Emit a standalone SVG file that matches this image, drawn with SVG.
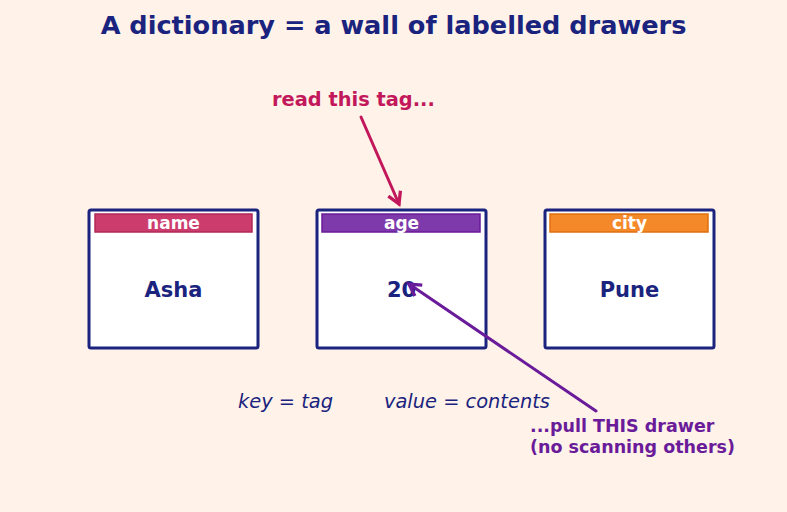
<svg xmlns="http://www.w3.org/2000/svg" width="787" height="512" viewBox="0 0 787 512">
<style>
text{font-family:"DejaVu Sans",sans-serif}
.title{font-size:25.6px;font-weight:bold;fill:#1a237e}
.box{fill:#ffffff;stroke:#1a237e;stroke-width:3}
.tag{stroke-width:1.5}
.tagt{font-size:17px;font-weight:bold;fill:#ffffff}
.val{font-size:21px;font-weight:bold;fill:#1a237e}
.note{font-size:19.4px;font-style:italic;fill:#1a237e}
</style>
<defs>
<marker id="ah1" viewBox="0 0 10 10" refX="8" refY="5" markerWidth="5.5" markerHeight="5.5" orient="auto" markerUnits="strokeWidth">
<path d="M1,1 L8,5 L1,9" fill="none" stroke="#c2185b" stroke-width="2"/>
</marker>
<marker id="ah2" viewBox="0 0 10 10" refX="8" refY="5" markerWidth="5.5" markerHeight="5.5" orient="auto" markerUnits="strokeWidth">
<path d="M1,1 L8,5 L1,9" fill="none" stroke="#6a1b9a" stroke-width="2"/>
</marker>
</defs>
<rect width="787" height="512" fill="#fff2e8"/>
<text class="title" x="393.5" y="34" text-anchor="middle">A dictionary = a wall of labelled drawers</text>
<g id="drawer-name">
<rect class="box" x="89" y="210" width="169" height="138" rx="2"/>
<rect class="tag" x="95" y="214" width="157" height="18" fill="#cc3d6e" stroke="#b02a5a"/>
<text class="tagt" x="173.5" y="229" text-anchor="middle">name</text>
<text class="val" x="173.5" y="297" text-anchor="middle">Asha</text>
</g>
<g id="drawer-age">
<rect class="box" x="317" y="210" width="169" height="138" rx="2"/>
<rect class="tag" x="322" y="214" width="158" height="18" fill="#7e3aab" stroke="#6a1b9a"/>
<text class="tagt" x="401.5" y="229" text-anchor="middle">age</text>
<text class="val" x="401.5" y="297" text-anchor="middle">20</text>
</g>
<g id="drawer-city">
<rect class="box" x="545" y="210" width="169" height="138" rx="2"/>
<rect class="tag" x="550" y="214" width="158" height="18" fill="#f4892a" stroke="#e07010"/>
<text class="tagt" x="629.5" y="229" text-anchor="middle">city</text>
<text class="val" x="629.5" y="297" text-anchor="middle">Pune</text>
</g>
<text class="note" x="238" y="408">key = tag</text>
<text class="note" x="384" y="408">value = contents</text>
<text x="272" y="106" font-size="19.4" font-weight="bold" fill="#c2185b">read this tag...</text>
<text x="530" y="432" font-size="17.5" font-weight="bold" fill="#6a1b9a">...pull THIS drawer</text>
<text x="530" y="453" font-size="17.5" font-weight="bold" fill="#6a1b9a">(no scanning others)</text>
<g id="connectors" fill="none" stroke-width="3" stroke-linecap="round">
<line x1="361" y1="117" x2="399" y2="204" stroke="#c2185b" marker-end="url(#ah1)"/>
<line x1="596" y1="411" x2="409" y2="284" stroke="#6a1b9a" marker-end="url(#ah2)"/>
</g>
</svg>
